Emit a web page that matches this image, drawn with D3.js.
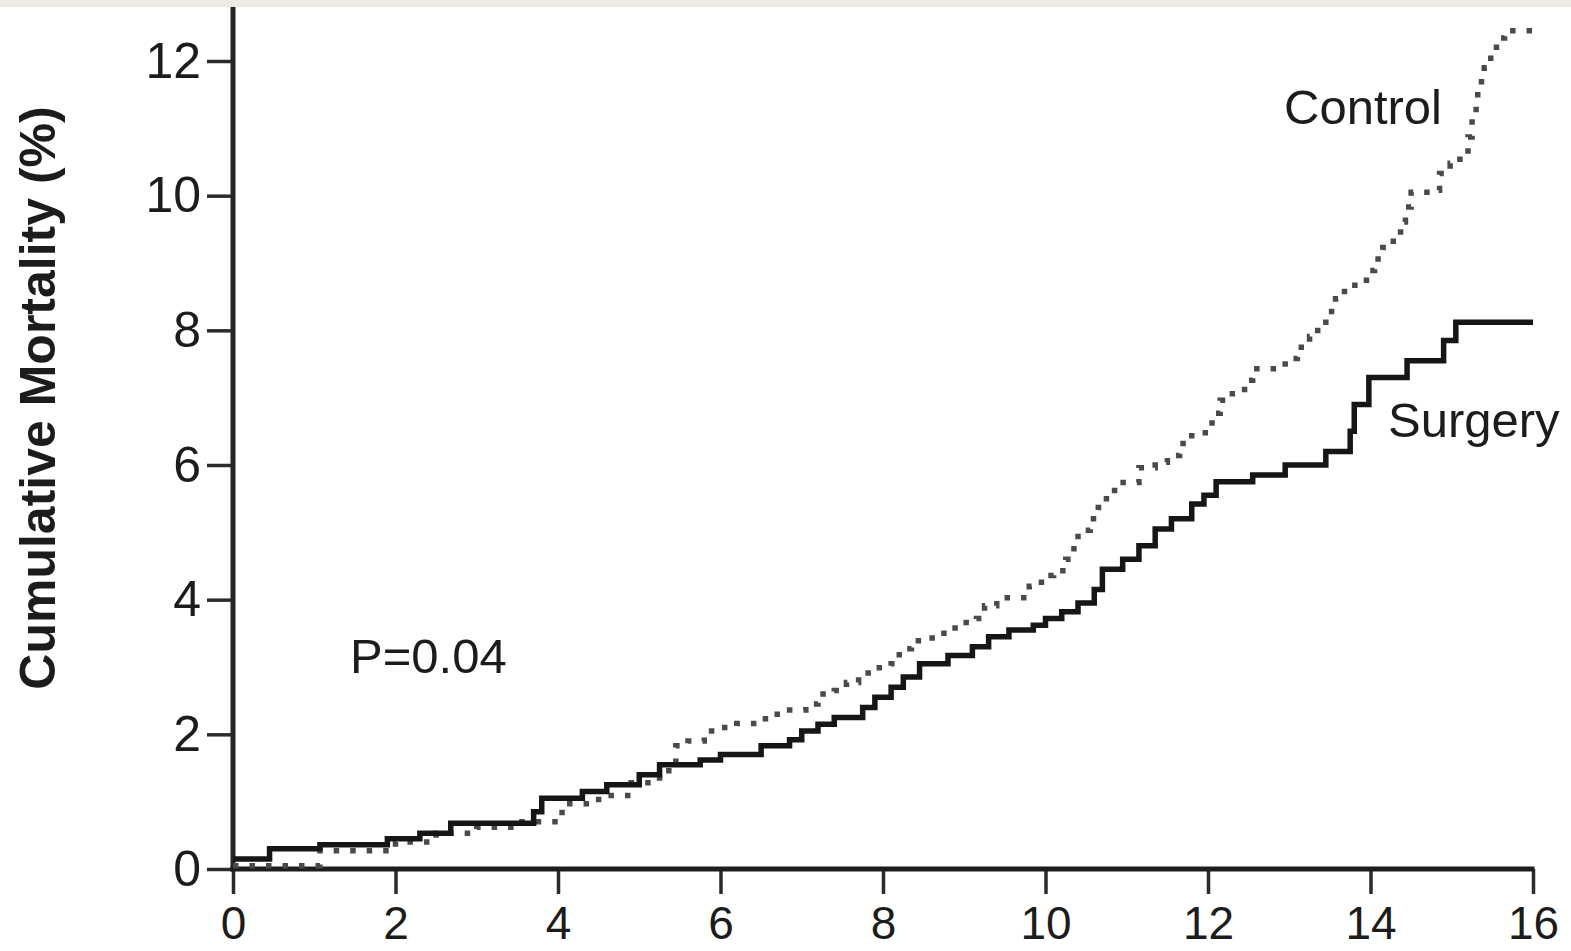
<!DOCTYPE html>
<html lang="en">
	<head>
		<meta charset="utf-8">
		<title>Cumulative Mortality</title>
		<script src="https://cdn.jsdelivr.net/npm/d3@7"></script>
		<style type="text/css">
			body { margin: 0; background: #ffffff; }
			svg { display: block; }
			.tick text {
				font-family: "Liberation Sans Narrow", "Liberation Sans", sans-serif;
				font-size: 50px;
				fill: #1c1c1c;
			}
			.x-axis .tick text {
				font-size: 46px;
			}
			.note {
				font-family: "Liberation Sans", sans-serif;
				font-size: 49px;
				fill: #1c1c1c;
			}
		</style>
	</head>
	<body>
		<script type="text/javascript">

			//Width and height
			var w = 1571;
			var h = 951;

			//Surgery curve (years, cumulative mortality %)
			var surgeryTimes  = [0, 0.45, 1.07, 1.9, 2.3, 2.68, 3.7, 3.8, 4.3, 4.6, 5.0, 5.25, 5.75, 6.0, 6.5, 6.85, 7.0, 7.2, 7.4, 7.75, 7.9, 8.1, 8.25, 8.45, 8.8, 9.1, 9.3, 9.55, 9.85, 10.0, 10.2, 10.4, 10.6, 10.7, 10.95, 11.15, 11.35, 11.55, 11.8, 11.95, 12.1, 12.55, 12.95, 13.45, 13.75, 13.8, 13.98, 14.45, 14.9, 15.05, 16];
			var surgeryValues = [0.15, 0.3, 0.36, 0.45, 0.53, 0.68, 0.85, 1.05, 1.15, 1.25, 1.4, 1.55, 1.62, 1.7, 1.83, 1.92, 2.05, 2.15, 2.25, 2.4, 2.55, 2.7, 2.85, 3.05, 3.17, 3.3, 3.45, 3.55, 3.62, 3.72, 3.82, 3.95, 4.15, 4.45, 4.6, 4.8, 5.05, 5.2, 5.42, 5.55, 5.75, 5.85, 6.0, 6.2, 6.5, 6.9, 7.3, 7.55, 7.85, 8.12, 8.12];

			//Control curve (years, cumulative mortality %)
			var controlTimes  = [0, 1.07, 2.0, 2.5, 3.0, 3.5, 4.05, 4.5, 4.9, 5.25, 5.45, 5.6, 5.8, 6.0, 6.2, 6.45, 6.65, 6.85, 7.05, 7.2, 7.4, 7.55, 7.7, 7.9, 8.1, 8.2, 8.35, 8.55, 8.75, 8.95, 9.15, 9.25, 9.4, 9.8, 9.95, 10.1, 10.25, 10.35, 10.4, 10.55, 10.65, 10.75, 10.85, 11.15, 11.35, 11.5, 11.65, 11.8, 12.05, 12.15, 12.3, 12.45, 12.55, 12.95, 13.1, 13.25, 13.35, 13.45, 13.57, 13.68, 13.95, 14.05, 14.15, 14.28, 14.37, 14.43, 14.5, 14.75, 14.85, 14.98, 15.1, 15.2, 15.25, 15.3, 15.32, 15.4, 15.48, 15.55, 15.65, 16];
			var controlValues = [0.05, 0.27, 0.4, 0.53, 0.62, 0.7, 0.97, 1.09, 1.28, 1.46, 1.83, 1.9, 2.05, 2.1, 2.16, 2.23, 2.3, 2.36, 2.45, 2.6, 2.65, 2.77, 2.91, 2.99, 3.05, 3.27, 3.39, 3.43, 3.58, 3.66, 3.72, 3.91, 4.03, 4.2, 4.36, 4.43, 4.6, 4.8, 5.03, 5.2, 5.37, 5.55, 5.74, 5.96, 6.04, 6.14, 6.32, 6.48, 6.77, 6.96, 7.06, 7.26, 7.43, 7.58, 7.75, 7.91, 8.12, 8.28, 8.47, 8.67, 8.89, 9.06, 9.23, 9.41, 9.61, 9.83, 10.05, 10.08, 10.33, 10.48, 10.62, 10.87, 11.15, 11.39, 11.69, 11.9, 12.12, 12.34, 12.45, 12.45];

			//Tick labels
			var xTicks = [0, 2, 4, 6, 8, 10, 12, 14, 16];
			var yTicks = [0, 2, 4, 6, 8, 10, 12];

			var surgery = surgeryTimes.map((t, i) => ({ t: t, v: surgeryValues[i] }));
			var control = controlTimes.map((t, i) => ({ t: t, v: controlValues[i] }));

			var xScale = d3.scaleLinear()
							.domain([0, 16])
							.range([233, 1533]);

			var yScale = d3.scaleLinear()
							.domain([0, 12])
							.range([869, 61]);

			//Create SVG element
			var svg = d3.select("body")
						.append("svg")
						.attr("width", w)
						.attr("height", h);

			//Beige strip at the top
			svg.append("rect")
			   .attr("x", 0)
			   .attr("y", 0)
			   .attr("width", w)
			   .attr("height", 7)
			   .attr("fill", "#eeebe2");

			//Axes
			svg.append("g")
			   .attr("class", "y-axis")
			   .attr("transform", "translate(" + xScale(0) + ",0)")
			   .call(d3.axisLeft(yScale).tickValues(yTicks).tickSize(26).tickPadding(6));

			svg.append("g")
			   .attr("class", "x-axis")
			   .attr("transform", "translate(0," + yScale(0) + ")")
			   .call(d3.axisBottom(xScale).tickValues(xTicks).tickSize(25).tickPadding(12));

			svg.selectAll(".domain").remove();
			svg.selectAll(".tick line")
			   .attr("stroke", "#2b2b2b")
			   .attr("stroke-width", 3.5);

			//Axis lines
			svg.append("line")
			   .attr("x1", xScale(0))
			   .attr("x2", xScale(0))
			   .attr("y1", 7)
			   .attr("y2", yScale(0) + 2.5)
			   .attr("stroke", "#262626")
			   .attr("stroke-width", 5);

			svg.append("line")
			   .attr("x1", xScale(0) - 2.5)
			   .attr("x2", xScale(16) + 1.5)
			   .attr("y1", yScale(0))
			   .attr("y2", yScale(0))
			   .attr("stroke", "#1e1e1e")
			   .attr("stroke-width", 5);

			//Curves
			var line = d3.line()
						 .x(d => xScale(d.t))
						 .y(d => yScale(d.v))
						 .curve(d3.curveStepAfter);

			svg.append("path")
			   .datum(control)
			   .attr("d", line)
			   .attr("fill", "none")
			   .attr("stroke", "#4a4a4a")
			   .attr("stroke-width", 5.5)
			   .attr("stroke-dasharray", "5.5 11");

			svg.append("path")
			   .datum(surgery)
			   .attr("d", line)
			   .attr("fill", "none")
			   .attr("stroke", "#161616")
			   .attr("stroke-width", 5.5)
			   .attr("stroke-linejoin", "miter");

			//Y label
			svg.append("text")
			   .attr("transform", "translate(55,398) rotate(-90)")
			   .attr("text-anchor", "middle")
			   .style("font-family", "'Liberation Sans', sans-serif")
			   .style("font-weight", "bold")
			   .style("font-size", "50px")
			   .attr("fill", "#1c1c1c")
			   .text("Cumulative Mortality (%)");

			//Annotations
			svg.append("text")
			   .attr("class", "note")
			   .attr("x", 350)
			   .attr("y", 673)
			   .text("P=0.04");

			svg.append("text")
			   .attr("class", "note")
			   .attr("x", 1284)
			   .attr("y", 124)
			   .text("Control");

			svg.append("text")
			   .attr("class", "note")
			   .attr("x", 1388)
			   .attr("y", 437)
			   .text("Surgery");

		</script>
	</body>
</html>
